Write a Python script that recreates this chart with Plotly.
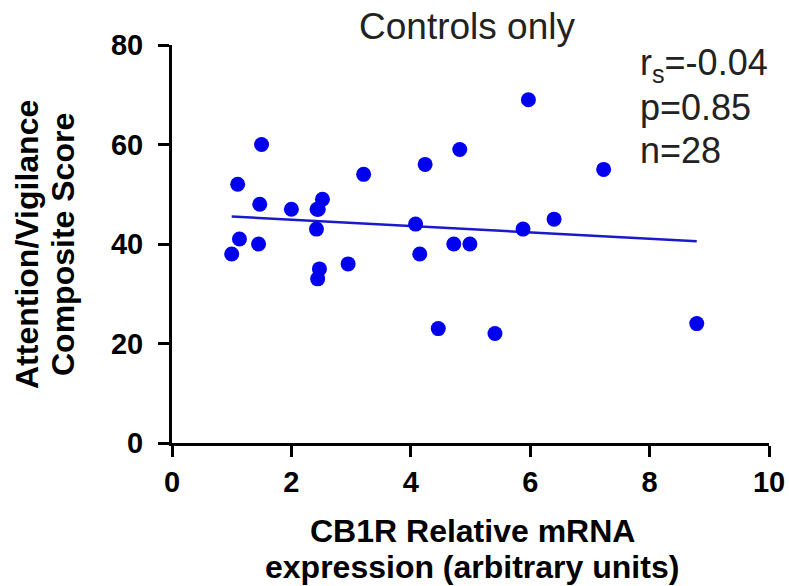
import numpy as np
import plotly.graph_objects as go

# CB1R relative mRNA expression (x) and Attention/Vigilance composite score (y)
cb1r_expr = [1.00, 1.13, 1.10, 1.50, 1.47, 1.45, 2.00, 2.43, 2.52, 2.42, 2.47, 2.44,
             2.95, 3.21, 4.08, 4.15, 4.24, 4.46, 4.72, 4.99, 4.82, 5.97, 5.41, 5.88,
             6.40, 7.23, 8.79, 2.45]
att_score = [38, 41, 52, 60, 48, 40, 47, 47, 49, 43, 35, 33,
             36, 54, 44, 38, 56, 23, 40, 40, 59, 69, 22, 43,
             45, 55, 24, 47]

x_ticks = [0, 2, 4, 6, 8, 10]
y_ticks = [0, 20, 40, 60, 80]

stats_lines = ["r<sub>s</sub>=-0.04", "p=0.85", "n=28"]
x_title_lines = ["CB1R Relative mRNA", "expression (arbitrary units)"]
y_title_lines = ["Attention/Vigilance", "Composite Score"]

x = np.array(cb1r_expr, dtype=float)
y = np.array(att_score, dtype=float)
slope, intercept = np.polyfit(x, y, 1)
x_fit = np.array([x.min(), x.max()])
y_fit = slope * x_fit + intercept

FONT = "Liberation Sans, Arial, sans-serif"
BLUE = "#0000ee"

fig = go.Figure()
fig.add_trace(go.Scatter(
    x=x_fit, y=y_fit, mode="lines",
    line=dict(color="#1a1acc", width=2.5),
    hoverinfo="skip", showlegend=False,
))
fig.add_trace(go.Scatter(
    x=x, y=y, mode="markers",
    marker=dict(color=BLUE, size=15, line=dict(width=0)),
    showlegend=False,
))

axis_common = dict(
    showline=True, linecolor="black", linewidth=3,
    ticks="outside", ticklen=11, tickwidth=2.5, tickcolor="black",
    showgrid=False, zeroline=False, automargin=False,
    tickfont=dict(family=FONT, size=29, color="black", weight="bold"),
)

fig.update_xaxes(range=[0, 10], tickvals=x_ticks, **axis_common)
fig.update_yaxes(range=[0, 80], tickvals=y_ticks, ticklabelstandoff=9, **axis_common)

title_font = dict(family=FONT, size=32, color="black", weight="bold")
# x-axis title (two lines)
for txt, yp in zip(x_title_lines, [-0.2211, -0.3116]):
    fig.add_annotation(
        text=txt, xref="paper", yref="paper", x=0.503, y=yp,
        xanchor="center", yanchor="middle", showarrow=False, font=title_font,
    )
# y-axis title (two lines, rotated)
for txt, xp in zip(y_title_lines, [-0.2429, -0.1826]):
    fig.add_annotation(
        text=txt, xref="paper", yref="paper", x=xp, y=0.5, textangle=-90,
        xanchor="center", yanchor="middle", showarrow=False, font=title_font,
    )

y_positions = [0.951, 0.842, 0.734]
for txt, yp in zip(stats_lines, y_positions):
    fig.add_annotation(
        text=txt, xref="paper", yref="paper", x=0.781, y=yp,
        xanchor="left", yanchor="middle", showarrow=False,
        font=dict(family=FONT, size=36, color="#222222"),
    )

fig.update_layout(
    width=789, height=586,
    margin=dict(l=172, r=20, t=45, b=143),
    paper_bgcolor="white", plot_bgcolor="white",
    title=dict(text="Controls only", x=467 / 789, xanchor="center",
               y=1 - 26 / 586, yanchor="middle", yref="container",
               font=dict(family=FONT, size=37, color="#222222")),
    showlegend=False,
)

fig.write_html(
    "out.html",
    config={"displayModeBar": False},
    post_script="document.body.style.margin='0';document.body.style.overflow='hidden';",
)
